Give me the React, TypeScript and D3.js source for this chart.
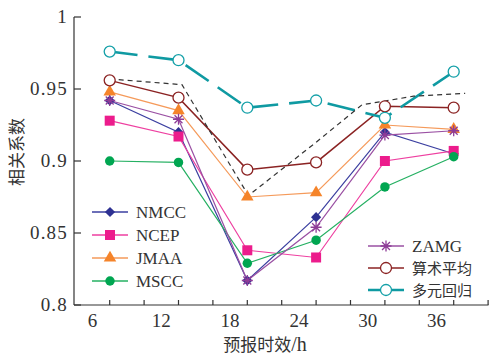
import React, { useRef, useEffect } from "react";
import { select, scaleLinear, line, symbol, symbolSquare, symbolTriangle, symbolCircle, range } from "d3";

const hours = [7.5, 13.5, 19.5, 25.5, 31.5, 37.5];
const nmcc = [0.942, 0.92, 0.817, 0.861, 0.92, 0.905];
const ncep = [0.928, 0.917, 0.838, 0.833, 0.9, 0.907];
const jmaa = [0.948, 0.935, 0.875, 0.878, 0.925, 0.922];
const mscc = [0.9, 0.899, 0.829, 0.845, 0.882, 0.903];
const zamg = [0.942, 0.929, 0.817, 0.854, 0.918, 0.921];
const mean = [0.956, 0.944, 0.894, 0.899, 0.938, 0.937];
const multi = [0.976, 0.97, 0.937, 0.942, 0.93, 0.962];
// dashed reference curve (no markers)
const refHours = [7.5, 13.8, 19.6, 25.5, 29.5, 34, 38.5];
const refValues = [0.957, 0.953, 0.876, 0.913, 0.939, 0.945, 0.947];

const xLabels = [6, 12, 18, 24, 30, 36];
const yTicks = [0.8, 0.85, 0.9, 0.95, 1];
const yLabels = ["0.8", "0.85", "0.9", "0.95", "1"];

const SERIF = "Liberation Serif";
const CJK = "Noto Sans CJK SC, sans-serif";

const series = [
  { name: "NMCC", values: nmcc, color: "#2e3192", line: "#3b3fa0", marker: "diamond", leg: 0 },
  { name: "NCEP", values: ncep, color: "#ec1c8c", line: "#ee3fa0", marker: "square", leg: 0 },
  { name: "JMAA", values: jmaa, color: "#f5842a", line: "#f59a5a", marker: "triangle", leg: 0 },
  { name: "MSCC", values: mscc, color: "#00a651", line: "#25b062", marker: "dot", leg: 0 },
  { name: "ZAMG", values: zamg, color: "#8e3c97", line: "#9a50a3", marker: "star", leg: 1 },
  { name: "算术平均", values: mean, color: "#8b2323", line: "#8b2323", marker: "ring", leg: 1 },
  { name: "多元回归", values: multi, color: "#14a0a8", line: "#0f9aa2", marker: "ring", leg: 1 },
];

function drawMarker(g, kind, color) {
  if (kind === "diamond") {
    g.append("path").attr("d", symbol(symbolSquare, 52)()).attr("transform", "rotate(45)").attr("fill", color);
  } else if (kind === "square") {
    g.append("path").attr("d", symbol(symbolSquare, 100)()).attr("fill", color);
  } else if (kind === "triangle") {
    g.append("path").attr("d", symbol(symbolTriangle, 68)()).attr("fill", color);
  } else if (kind === "dot") {
    g.append("path").attr("d", symbol(symbolCircle, 70)()).attr("fill", color);
  } else if (kind === "star") {
    const r = 5.5, d = r * 0.72;
    g.append("path")
      .attr("d", `M0,${-r}V${r}M${-r},0H${r}M${-d},${-d}L${d},${d}M${-d},${d}L${d},${-d}`)
      .attr("stroke", color).attr("stroke-width", 1.3).attr("fill", "none");
  } else {
    g.append("circle").attr("r", 5.5).attr("fill", "white").attr("stroke", color).attr("stroke-width", 1.3);
  }
}

function Chart() {
  const svgRef = useRef(null);

  useEffect(() => {
    const svg = select(svgRef.current);
    svg.selectAll("*").remove();

    const xScale = scaleLinear().domain([6, 36]).range([92.5, 436.5]);
    const yScale = scaleLinear().domain([0.8, 1]).range([305, 17]);
    const x0 = 74, x1 = 488.5, yb = 305;

    // axes
    const axis = svg.append("g").attr("stroke", "#333").attr("stroke-width", 1.2);
    axis.append("line").attr("x1", x0).attr("x2", x0).attr("y1", yScale(1)).attr("y2", yb);
    axis.append("line").attr("x1", x0).attr("x2", x1).attr("y1", yb).attr("y2", yb);
    axis.selectAll(".yt").data(yTicks).join("line").attr("class", "yt")
      .attr("x1", x0).attr("x2", x0 + 7).attr("y1", d => yScale(d)).attr("y2", d => yScale(d));
    axis.selectAll(".xt").data(range(7.5, 41, 3)).join("line").attr("class", "xt")
      .attr("x1", d => xScale(d)).attr("x2", d => xScale(d)).attr("y1", yb).attr("y2", yb - 5);

    svg.selectAll(".ylab").data(yTicks).join("text").attr("class", "ylab")
      .attr("x", 68).attr("y", d => yScale(d) + 6)
      .attr("text-anchor", "end").attr("font-family", SERIF).attr("font-size", 19)
      .attr("letter-spacing", 1.2).attr("fill", "#333")
      .text((d, i) => yLabels[i]);
    svg.selectAll(".xlab").data(xLabels).join("text").attr("class", "xlab")
      .attr("x", d => xScale(d)).attr("y", 327)
      .attr("text-anchor", "middle").attr("font-family", SERIF).attr("font-size", 19).attr("fill", "#333")
      .text(d => d);

    svg.append("text").attr("transform", "translate(23,152) rotate(-90)")
      .attr("text-anchor", "middle").style("font-family", CJK).attr("font-size", 17).attr("fill", "#333")
      .text("相关系数");
    const xt = svg.append("text").attr("x", 265).attr("y", 351).attr("text-anchor", "middle")
      .attr("font-size", 17).attr("fill", "#333");
    xt.append("tspan").style("font-family", CJK).text("预报时效");
    xt.append("tspan").attr("font-family", SERIF).attr("font-size", 20).text("/h");

    const path = line().x(d => xScale(d[0])).y(d => yScale(d[1]));

    series.forEach(s => {
      const pts = hours.map((h, i) => [h, s.values[i]]);
      const isMulti = s.name === "多元回归";
      svg.append("path").attr("d", path(pts)).attr("fill", "none")
        .attr("stroke", s.line)
        .attr("stroke-width", isMulti ? 2.6 : s.name === "算术平均" ? 1.5 : 1.2)
        .attr("stroke-dasharray", isMulti ? "28,11" : null);
      if (isMulti) {
        svg.append("path").attr("d", path(refHours.map((h, i) => [h, refValues[i]])))
          .attr("fill", "none").attr("stroke", "#333").attr("stroke-width", 1.2)
          .attr("stroke-dasharray", "5,4");
      }
    });
    series.forEach(s => {
      hours.forEach((h, i) => {
        const g = svg.append("g").attr("transform", `translate(${xScale(h)},${yScale(s.values[i])})`);
        drawMarker(g, s.marker, s.color);
      });
    });

    // legends
    const legPos = [
      { lx: 92, rows: [212, 235, 258, 281] },
      { lx: 368, rows: [246, 268, 290] },
    ];
    const counters = [0, 0];
    series.forEach(s => {
      const p = legPos[s.leg];
      const y = p.rows[counters[s.leg]++];
      const g = svg.append("g");
      g.append("line").attr("x1", p.lx).attr("x2", p.lx + 36).attr("y1", y).attr("y2", y)
        .attr("stroke", s.line).attr("stroke-width", s.name === "多元回归" ? 2.6 : 1.3);
      const m = g.append("g").attr("transform", `translate(${p.lx + 18},${y})`);
      drawMarker(m, s.marker, s.color);
      const isCjk = /[^\x00-\x7f]/.test(s.name);
      g.append("text").attr("x", p.lx + 44).attr("y", y + 6)
        .attr("font-family", isCjk ? CJK : SERIF).attr("font-size", isCjk ? 15 : 17)
        .attr("fill", "#333").text(s.name);
    });
  }, []);

  return (
    <svg ref={svgRef} width={489} height={356}
      style={{ position: "absolute", left: 0, top: 0, background: "white" }} />
  );
}

export default function App() {
  return <Chart />;
}
